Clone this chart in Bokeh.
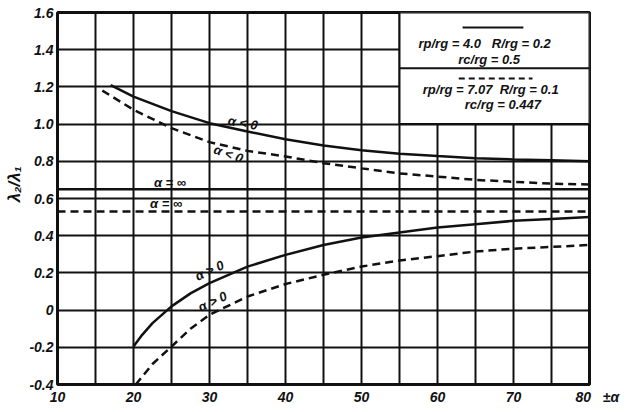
import math
from bokeh.plotting import figure
from bokeh.models import Range1d, FixedTicker
from bokeh.core.properties import value
from bokeh.embed import file_html
from bokeh.resources import INLINE

# ---- data ----
x_ticks = [10, 20, 30, 40, 50, 60, 70, 80]
x_tick_labels = ["10", "20", "30", "40", "50", "60", "70", "80"]
x_axis_title = "±α"
y_ticks = [-0.4, -0.2, 0.0, 0.2, 0.4, 0.6, 0.8, 1.0, 1.2, 1.4, 1.6]
y_tick_labels = ["-0.4", "-0.2", "0", "0.2", "0.4", "0.6", "0.8", "1.0", "1.2", "1.4", "1.6"]
y_axis_title = "λ₂/λ₁"

# alpha < 0, solid (rp/rg = 4.0)
x_neg_solid = [17, 20, 25, 30, 35, 40, 45, 50, 55, 60, 65, 70, 75, 80]
y_neg_solid = [1.21, 1.148, 1.07, 1.005, 0.96, 0.919, 0.885, 0.86, 0.84, 0.828, 0.817, 0.81, 0.805, 0.80]
# alpha < 0, dashed (rp/rg = 7.07)
x_neg_dash = [15.9, 20, 25, 30, 35, 40, 45, 50, 55, 60, 65, 70, 75, 80]
y_neg_dash = [1.18, 1.077, 0.978, 0.903, 0.856, 0.826, 0.79, 0.762, 0.735, 0.718, 0.70, 0.69, 0.68, 0.675]
# alpha > 0, solid
x_pos_solid = [20, 21, 22.5, 25, 27.5, 30, 35, 40, 45, 50, 55, 60, 65, 70, 75, 80]
y_pos_solid = [-0.196, -0.14, -0.07, 0.02, 0.09, 0.145, 0.234, 0.297, 0.35, 0.39, 0.417, 0.444, 0.462, 0.48, 0.49, 0.50]
# alpha > 0, dashed
x_pos_dash = [20.3, 22.5, 25, 27.5, 30, 35, 40, 45, 50, 55, 60, 65, 70, 75, 80]
y_pos_dash = [-0.40, -0.29, -0.196, -0.10, -0.025, 0.073, 0.14, 0.19, 0.234, 0.267, 0.29, 0.315, 0.33, 0.34, 0.35]
# alpha = infinity
y_inf_solid = 0.65
y_inf_dash = 0.53

NB = "\u00a0"
legend_line1 = "rp/rg = 4.0" + NB * 3 + "R/rg = 0.2"
legend_line2 = "rc/rg = 0.5"
legend_line3 = "rp/rg = 7.07" + NB * 2 + "R/rg = 0.1"
legend_line4 = "rc/rg = 0.447"

FONT = "Liberation Sans"
INK = "#111111"

p = figure(width=632, height=410, output_backend="svg", toolbar_location=None,
           x_range=Range1d(10, 80), y_range=Range1d(-0.4, 1.6),
           min_border_left=57, min_border_right=43, min_border_top=12, min_border_bottom=26)

p.outline_line_color = INK
p.outline_line_width = 3

for ax in (p.xaxis[0], p.yaxis[0]):
    ax.axis_line_color = None
    ax.major_tick_line_color = None
    ax.minor_tick_line_color = None
    ax.major_tick_out = 0
    ax.major_tick_in = 0
    ax.major_label_text_font = FONT
    ax.major_label_text_font_style = "bold italic"
    ax.major_label_text_font_size = "14px"
    ax.major_label_text_color = INK
    ax.major_label_standoff = 4

# x axis: the "±α" title sits on the row of the tick labels, right of "80"
x_over = {t: l for t, l in zip(x_ticks, x_tick_labels)}
x_over[80] = NB * 4 + x_tick_labels[-1] + NB * 3 + x_axis_title
p.xaxis[0].ticker = FixedTicker(ticks=x_ticks)
p.xaxis[0].major_label_overrides = x_over
p.yaxis[0].ticker = FixedTicker(ticks=y_ticks)
p.yaxis[0].major_label_overrides = {t: l for t, l in zip(y_ticks, y_tick_labels)}
p.yaxis[0].axis_label = NB * 6 + y_axis_title
p.yaxis[0].axis_label_text_font = FONT
p.yaxis[0].axis_label_text_font_style = "bold italic"
p.yaxis[0].axis_label_text_font_size = "17px"
p.yaxis[0].axis_label_text_color = INK
p.yaxis[0].axis_label_standoff = 2

p.xgrid[0].ticker = FixedTicker(ticks=list(range(10, 81, 5)))
p.ygrid[0].ticker = FixedTicker(ticks=y_ticks)
for g in (p.xgrid[0], p.ygrid[0]):
    g.grid_line_color = INK
    g.grid_line_width = 2
    g.grid_line_alpha = 1.0

# legend box (covers grid)
p.quad(left=[55], right=[80], bottom=[1.0], top=[1.6], fill_color="white",
       line_color=INK, line_width=2)
p.segment(x0=[55], y0=[1.30], x1=[80], y1=[1.30], line_color=INK, line_width=2)
p.segment(x0=[63.3], y0=[1.52], x1=[71.3], y1=[1.52], line_color=INK, line_width=2)
p.segment(x0=[62.8], y0=[1.245], x1=[72.5], y1=[1.245], line_color=INK, line_width=2,
          line_dash="6 4")
p.text(x=[66.2, 66.8, 67.0, 68.6], y=[1.433, 1.347, 1.186, 1.105],
       text=[legend_line1, legend_line2, legend_line3, legend_line4],
       text_font=value(FONT), text_font_style="bold italic", text_font_size="13px",
       text_align="center", text_baseline="middle", text_color=INK)

# curves
p.line(x_neg_solid, y_neg_solid, line_color=INK, line_width=2.5)
p.line(x_neg_dash, y_neg_dash, line_color=INK, line_width=2.5, line_dash="8 5")
p.line(x_pos_solid, y_pos_solid, line_color=INK, line_width=2.5)
p.line(x_pos_dash, y_pos_dash, line_color=INK, line_width=2.5, line_dash="8 5")
p.line([10, 80], [y_inf_solid, y_inf_solid], line_color=INK, line_width=2.5)
p.line([10, 80], [y_inf_dash, y_inf_dash], line_color=INK, line_width=2.5, line_dash="8 5")

# curve labels
lab = dict(text_font=value(FONT), text_font_style="bold italic", text_font_size="13px",
           text_align="center", text_baseline="middle", text_color=INK)
p.text(x=[34.4], y=[1.006], text=["α < 0"], angle=math.radians(-10), **lab)
p.text(x=[32.5], y=[0.84], text=["α < 0"], angle=math.radians(-20), **lab)
p.text(x=[24.8], y=[0.686], text=["α = ∞"], **lab)
p.text(x=[24.3], y=[0.573], text=["α = ∞"], **lab)
p.text(x=[30.0], y=[0.213], text=["α > 0"], angle=math.radians(25), **lab)
p.text(x=[30.4], y=[0.046], text=["α > 0"], angle=math.radians(25), **lab)

open("out.html", "w").write(file_html(p, INLINE))
